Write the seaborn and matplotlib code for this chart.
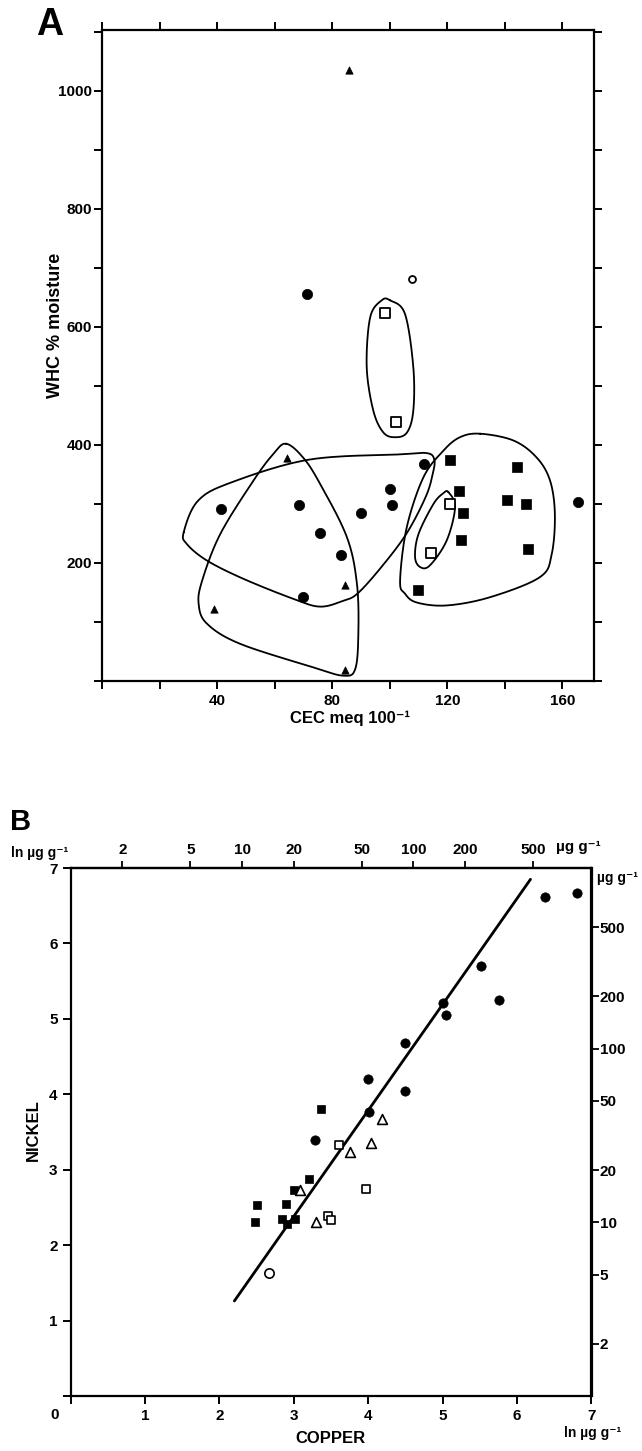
import numpy as np
import pandas as pd
import matplotlib
matplotlib.use("Agg")
import matplotlib.pyplot as plt
import seaborn as sns

# ---------------- Panel A data (CEC meq 100^-1 vs WHC % moisture) ----------------
a_tri_x = [85.9, 64.4, 39.1, 84.6, 84.4]
a_tri_y = [1035, 378, 122, 163, 19]
a_circ_x = [71.4, 41.4, 68.6, 75.7, 82.9, 70.0, 90.1, 100.1, 100.7, 112.0, 165.4]
a_circ_y = [655, 292, 299, 251, 214, 143, 284, 325, 299, 367, 304]
a_ocirc_x = [107.9]
a_ocirc_y = [681]
a_osq_x = [98.4, 102.3, 120.9, 114.3]
a_osq_y = [624, 439, 300, 217]
a_sq_x = [120.9, 124.0, 125.4, 124.7, 109.9, 144.3, 140.9, 147.4, 148.1]
a_sq_y = [375, 322, 285, 239, 154, 363, 307, 300, 223]

# hand-drawn group outlines (control points, data units)
enc_tall_x = [100.1, 105.3, 108.2, 108.2, 106.0, 101.9, 97.8, 94.3, 92.0, 93.2, 97.2]
enc_tall_y = [645, 622, 532, 458, 421, 413, 421, 458, 532, 616, 645]
enc_tri_x = [64.0, 70.0, 75.8, 85.1, 88.6, 89.1, 88.0, 83.9, 73.5, 48.0, 36.5, 33.6, 34.8, 41.1, 52.7, 59.6]
enc_tri_y = [402, 378, 334, 244, 165, 80, 20, 9, 23, 63, 97, 130, 170, 249, 340, 385]
enc_lens_x = [28.4, 33.3, 44.7, 71.9, 103.6, 113.0, 115.5, 115.0, 112.6, 106.0, 97.6, 89.0, 83.9, 75.8, 66.6, 49.2, 36.5, 29.5]
enc_lens_y = [252, 305, 336, 375, 384, 386, 375, 352, 313, 251, 196, 149, 136, 126, 139, 173, 204, 232]
enc_small_x = [120.4, 122.7, 119.8, 114.0, 110.6, 108.8, 110.0, 115.2, 118.6]
enc_small_y = [320, 294, 238, 196, 193, 210, 249, 300, 318]
enc_big_x = [131.4, 143.0, 151.0, 155.7, 157.4, 156.3, 152.2, 134.9, 119.8, 109.4, 105.3, 103.6, 105.9, 111.7, 118.6, 124.4]
enc_big_y = [419, 407.5, 379, 340, 283, 215, 176, 142, 128, 133, 148, 170, 260, 345, 390, 413]

a_xticks = [40, 80, 120, 160]
a_yticks = [200, 400, 600, 800, 1000]

# ---------------- Panel B data (ln copper vs ln nickel) ----------------
b_circ_x = [6.37, 6.81, 5.52, 5.76, 5.00, 5.04, 4.49, 3.99, 4.50, 4.01, 3.29]
b_circ_y = [6.61, 6.67, 5.70, 5.25, 5.21, 5.05, 4.68, 4.20, 4.04, 3.77, 3.39]
b_sq_x = [3.36, 3.20, 3.00, 2.51, 2.90, 2.48, 2.84, 2.91, 3.01]
b_sq_y = [3.81, 2.88, 2.73, 2.53, 2.54, 2.31, 2.34, 2.28, 2.35]
b_otri_x = [4.18, 4.03, 3.75, 3.08, 3.30]
b_otri_y = [3.67, 3.35, 3.23, 2.73, 2.31]
b_osq_x = [3.61, 3.97, 3.46, 3.50]
b_osq_y = [3.33, 2.75, 2.38, 2.33]
b_ocirc_x = [2.67]
b_ocirc_y = [1.63]
b_line_x = [2.20, 6.18]
b_line_y = [1.26, 6.85]

b_ticks = [1, 2, 3, 4, 5, 6, 7]
b_ug_ticks = [2, 5, 10, 20, 50, 100, 200, 500]


def closed_curve(xs, ys, n=24):
    P = np.column_stack([xs, ys]).astype(float)
    N = len(P)
    t = np.linspace(0, 1, n, endpoint=False)[:, None]
    segs = []
    for i in range(N):
        p0, p1, p2, p3 = P[i - 1], P[i], P[(i + 1) % N], P[(i + 2) % N]
        segs.append(0.5 * (2 * p1 + (-p0 + p2) * t + (2 * p0 - 5 * p1 + 4 * p2 - p3) * t ** 2
                           + (-p0 + 3 * p1 - 3 * p2 + p3) * t ** 3))
    out = np.vstack(segs + [P[:1]])
    return out[:, 0], out[:, 1]


sns.set_style("ticks")
plt.rcParams["font.family"] = ["Liberation Sans", "DejaVu Sans"]
plt.rcParams["font.weight"] = "bold"
plt.rcParams["axes.linewidth"] = 1.6
for key in ["text.color", "axes.labelcolor", "xtick.color", "ytick.color", "axes.edgecolor"]:
    plt.rcParams[key] = "black"

fig = plt.figure(figsize=(6.42, 14.51), dpi=100)
axA = fig.add_axes([102 / 642, 1 - 681 / 1451, 492 / 642, 651 / 1451])
axB = fig.add_axes([70.7 / 642, 1 - 1396 / 1451, 520.8 / 642, 528 / 1451])

K = "black"


def scat(ax, x, y, marker, s, filled, lw=1.0):
    sns.scatterplot(x=x, y=y, ax=ax, marker=marker, s=s,
                    color=K if filled else "white", edgecolor=K,
                    linewidth=lw, legend=False, zorder=3)


# ---------------- Panel A ----------------
for ex, ey in [(enc_tall_x, enc_tall_y), (enc_tri_x, enc_tri_y), (enc_lens_x, enc_lens_y),
               (enc_small_x, enc_small_y), (enc_big_x, enc_big_y)]:
    cx, cy = closed_curve(ex, ey)
    axA.plot(cx, cy, color=K, lw=1.3, zorder=2)

scat(axA, a_tri_x, a_tri_y, "^", 28, True, 0.5)
scat(axA, a_circ_x, a_circ_y, "o", 55, True, 0.5)
scat(axA, a_ocirc_x, a_ocirc_y, "o", 25, False, 1.3)
scat(axA, a_osq_x, a_osq_y, "s", 42, False, 1.3)
scat(axA, a_sq_x, a_sq_y, "s", 45, True, 0.5)

axA.set_xlim(0, 171)
axA.set_ylim(0, 1103)
axA.set_xticks(a_xticks)
axA.set_yticks(a_yticks)
axA.set_xticks(np.arange(0, 171, 20), minor=True)
axA.set_yticks(np.arange(0, 1101, 100), minor=True)
axA.tick_params(which="both", direction="out", length=6, width=1.4,
                top=True, right=True, labelsize=11)
axA.tick_params(axis="y", pad=1)
axA.set_xlabel("CEC meq 100\u207b\u00b9", fontsize=12, fontweight="bold")
axA.xaxis.set_label_coords(0.504, -0.046)
axA.set_ylabel("WHC % moisture", fontsize=13, fontweight="bold")
axA.yaxis.set_label_coords(-0.078, 0.547)
for sp in axA.spines.values():
    sp.set_visible(True)
    sp.set_linewidth(1.6)
fig.text(50 / 642, 1 - 25 / 1451, "A", fontsize=27, fontweight="bold", ha="center", va="center")

# ---------------- Panel B ----------------
axB.plot(b_line_x, b_line_y, color=K, lw=2.0, zorder=2)
scat(axB, b_circ_x, b_circ_y, "o", 45, True, 0.5)
scat(axB, b_sq_x, b_sq_y, "s", 30, True, 0.5)
scat(axB, b_otri_x, b_otri_y, "^", 50, False, 1.2)
scat(axB, b_osq_x, b_osq_y, "s", 32, False, 1.2)
scat(axB, b_ocirc_x, b_ocirc_y, "o", 45, False, 1.2)

axB.set_xlim(0, 7)
axB.set_ylim(0, 7)
axB.set_xticks([0] + b_ticks, [""] + [str(v) for v in b_ticks])
axB.set_yticks([0] + b_ticks, [""] + [str(v) for v in b_ticks])
axB.tick_params(direction="out", length=6, width=1.4, labelsize=11, top=False, right=False)
for sp in axB.spines.values():
    sp.set_visible(True)
    sp.set_linewidth(1.6)

top = axB.secondary_xaxis("top")
top.set_xticks(np.log(b_ug_ticks), [str(v) for v in b_ug_ticks])
top.tick_params(direction="out", length=5, width=1.3, labelsize=11, pad=3)
right = axB.secondary_yaxis("right")
right.set_yticks(np.log(b_ug_ticks), [str(v) for v in b_ug_ticks])
right.tick_params(direction="out", length=5, width=1.3, labelsize=11, pad=1)

axB.set_xlabel("COPPER", fontsize=12, fontweight="bold")
axB.xaxis.set_label_coords(0.498, -0.066)
axB.set_ylabel("NICKEL", fontsize=12, fontweight="bold")
axB.yaxis.set_label_coords(-0.057, 0.504)
axB.text(-0.22, -0.25, "0", fontsize=11, fontweight="bold", ha="center", va="center", clip_on=False)
axB.text(7.02, -0.49, "ln \u00b5g g\u207b\u00b9", fontsize=10, fontweight="bold", ha="center", va="center", clip_on=False)
axB.text(-0.03, 7.2, "ln \u00b5g g\u207b\u00b9", fontsize=10, fontweight="bold", ha="right", va="center", clip_on=False)
axB.text(6.82, 7.28, "\u00b5g g\u207b\u00b9", fontsize=11, fontweight="bold", ha="center", va="center", clip_on=False)
axB.text(7.08, 6.87, "\u00b5g g\u207b\u00b9", fontsize=10, fontweight="bold", ha="left", va="center", clip_on=False)
fig.text(20.5 / 642, 1 - 822 / 1451, "B", fontsize=21, fontweight="bold", ha="center", va="center")

fig.savefig("out.png", dpi=100)
